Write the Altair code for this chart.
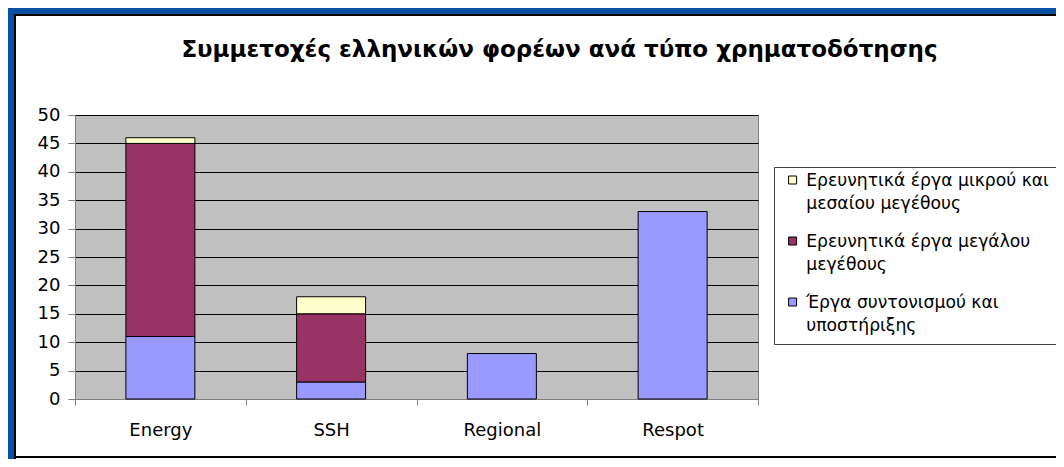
import altair as alt
import pandas as pd

# ---- data ----
categories = ["Energy", "SSH", "Regional", "Respot"]
series_names = [
    "Έργα συντονισμού και\nυποστήριξης",
    "Ερευνητικά έργα μεγάλου\nμεγέθους",
    "Ερευνητικά έργα μικρού και\nμεσαίου μεγέθους",
]
coordination = [11, 3, 8, 33]
large_projects = [34, 12, 0, 0]
small_medium = [1, 3, 0, 0]
series_values = [coordination, large_projects, small_medium]
series_colors = ["#9999FF", "#993366", "#FFFFCC"]
y_ticks = [0, 5, 10, 15, 20, 25, 30, 35, 40, 45, 50]
title_text = "Συμμετοχές ελληνικών φορέων ανά τύπο χρηματοδότησης"

rows = []
for s_idx, (name, vals) in enumerate(zip(series_names, series_values)):
    for cat, v in zip(categories, vals):
        rows.append({"category": cat, "series": name, "value": v, "stack_order": s_idx})
df = pd.DataFrame(rows)

legend_domain = [series_names[2], series_names[1], series_names[0]]
legend_range = [series_colors[2], series_colors[1], series_colors[0]]

FONT = "DejaVu Sans"
BLUE = "#0A50A1"
W, H = 683, 284
CANVAS_W, CANVAS_H = 1048, 451
PAD = {"left": 67, "top": 107, "right": CANVAS_W - 67 - W, "bottom": CANVAS_H - 107 - H}

bars = (
    alt.Chart(df)
    .transform_filter("datum.value > 0")
    .mark_bar(width=alt.RelativeBandSize(0.404), stroke="black", strokeWidth=1)
    .encode(
        x=alt.X(
            "category:N",
            sort=categories,
            title=None,
            scale=alt.Scale(paddingInner=0, paddingOuter=0),
            axis=alt.Axis(
                labelAngle=0,
                tickBand="extent",
                tickSize=6,
                tickColor="#808080",
                domainColor="#808080",
                labelFont=FONT,
                labelFontSize=18,
                labelColor="black",
                labelPadding=16,
                grid=False,
            ),
        ),
        y=alt.Y(
            "value:Q",
            stack="zero",
            title=None,
            scale=alt.Scale(domain=[0, 50], nice=False),
            axis=alt.Axis(
                values=y_ticks,
                grid=True,
                gridColor="black",
                gridWidth=1,
                tickSize=7,
                tickColor="#808080",
                domainColor="#808080",
                labelFont=FONT,
                labelFontSize=18,
                labelColor="black",
                labelPadding=8,
            ),
        ),
        color=alt.Color(
            "series:N",
            scale=alt.Scale(domain=legend_domain, range=legend_range),
            legend=alt.Legend(
                title=None,
                orient="none",
                legendX=699,
                legendY=52,
                labelExpr="split(datum.label, '\\n')",
                labelFont=FONT,
                labelFontSize=17.2,
                labelColor="black",
                labelLimit=500,
                labelBaseline="alphabetic",
                labelOffset=5,
                symbolType="M-1,-2.4H1V-0.4H-1Z",
                symbolSize=64,
                symbolStrokeColor="black",
                symbolStrokeWidth=1,
                symbolOpacity=1,
                padding=10,
                strokeColor="#404040",
                fillColor="white",
                rowPadding=20,
            ),
        ),
        order=alt.Order("stack_order:Q", sort="ascending"),
    )
)

frame_df = pd.DataFrame({"k": [0]})
frame_top = alt.Chart(frame_df).mark_rule(color=BLUE, strokeWidth=6).encode(
    x=alt.value(-67), x2=alt.value(1100), y=alt.value(-104)
)
frame_top_line = alt.Chart(frame_df).mark_rule(color="black", strokeWidth=2).encode(
    x=alt.value(-61), x2=alt.value(1100), y=alt.value(-100)
)
frame_left = alt.Chart(frame_df).mark_rule(color=BLUE, strokeWidth=6).encode(
    x=alt.value(-64), y=alt.value(-107), y2=alt.value(400)
)
frame_left_line = alt.Chart(frame_df).mark_rule(color="black", strokeWidth=2).encode(
    x=alt.value(-60), y=alt.value(-101), y2=alt.value(400)
)
frame_bottom = alt.Chart(frame_df).mark_rule(color="black", strokeWidth=2).encode(
    x=alt.value(-61), x2=alt.value(1100), y=alt.value(CANVAS_H - 107 - 2)
)

chart = (
    alt.layer(bars, frame_top, frame_top_line, frame_left, frame_left_line, frame_bottom)
    .properties(
        width=W,
        height=H,
        autosize=alt.AutoSizeParams(type="none"),
        padding=PAD,
        background="white",
        title=alt.TitleParams(
            text=title_text,
            font=FONT,
            fontSize=23,
            fontWeight="bold",
            color="black",
            anchor="middle",
            frame="group",
            dx=143,
            offset=-75,
            baseline="alphabetic",
        ),
    )
    .configure(style={"guide-label": {"lineHeight": 23}})
    .configure_view(fill="#C0C0C0", stroke="#808080", strokeWidth=1)
)

chart.save("out.html", embed_options={"renderer": "svg", "actions": False})
